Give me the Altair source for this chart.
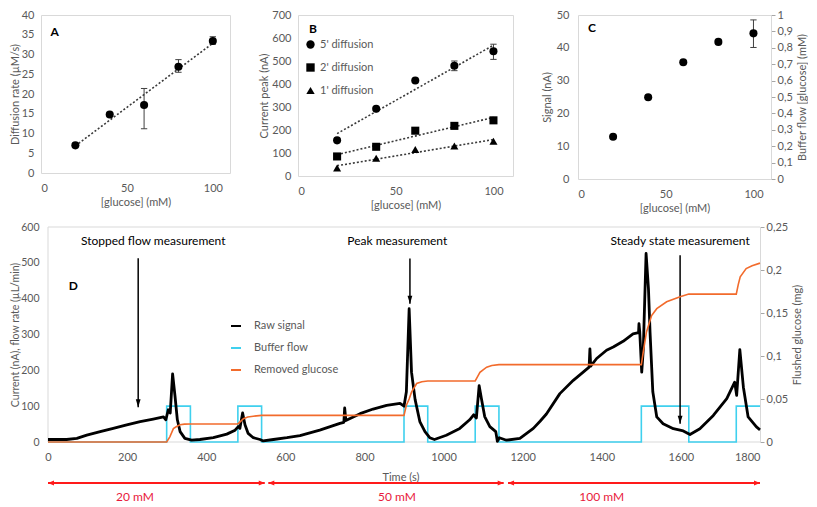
import altair as alt
import pandas as pd

FONT = "Lato"
GRAY = "#595959"
FRAME = "#d9d9d9"
TICKC = "#a6a6a6"
DOT = "#3a3a3a"

# ---------------- Panel A ----------------
A_GLUCOSE = [20, 40, 60, 80, 100]
A_RATE = [7.0, 14.8, 17.2, 26.9, 33.4]
A_ERR_G = [60, 80, 100]
A_ERR_LOW = [11.2, 25.5, 32.6]
A_ERR_HIGH = [21.4, 28.7, 34.5]

# ---------------- Panel B ----------------
B_GLUCOSE = [20, 40, 60, 80, 100]
B_SERIES = ["5' diffusion", "2' diffusion", "1' diffusion"]
B_5MIN = [155, 292, 415, 479, 542]
B_2MIN = [85, 127, 197, 218, 242]
B_1MIN = [35, 77, 115, 130, 151]
B_ERR_G = [80, 100]
B_ERR_LOW = [458, 507]
B_ERR_HIGH = [500, 573]

# ---------------- Panel C ----------------
C_GLUCOSE = [20, 40, 60, 80, 100]
C_SIGNAL = [12.9, 24.9, 35.6, 41.8, 44.4]
C_ERR_G = [100]
C_ERR_LOW = [40.1]
C_ERR_HIGH = [48.5]
C_RIGHT_DOMAIN = [0, 1]

# ---------------- Panel D ----------------
D_SERIES = ["Raw signal", "Buffer flow", "Removed glucose"]
D_COLORS = ["#000000", "#3fd0ee", "#f26b2c"]

T_RAW = [0, 47, 73, 98, 132, 165, 199, 233, 266, 292, 298, 304, 309, 315, 321, 327, 334, 346,
         363, 384, 418, 452, 473, 481, 485, 492, 498, 506, 519, 536, 544, 570, 604, 637, 687,
         738, 748, 750, 753, 789, 822, 856, 890, 900, 906, 913, 919, 928, 940, 953, 965, 977,
         1007, 1041, 1066, 1076, 1083, 1090, 1096, 1104, 1117, 1132, 1136, 1141, 1159, 1193,
         1227, 1244, 1260, 1294, 1328, 1353, 1368, 1370, 1372, 1387, 1412, 1429, 1454, 1479,
         1493, 1494, 1496, 1501, 1505, 1512, 1518, 1522, 1529, 1539, 1555, 1581, 1606, 1623,
         1648, 1682, 1716, 1736, 1741, 1749, 1758, 1770, 1791, 1800]
RAW = [7, 7, 10, 19, 29, 38, 48, 57, 64, 70, 62, 90, 81, 190, 129, 62, 29, 10,
       5, 7, 12, 22, 33, 43, 38, 81, 48, 24, 12, 7, 3, 7, 12, 18, 33,
       52, 55, 95, 60, 79, 92, 102, 108, 100, 140, 372, 195, 119, 57, 29, 12, 7,
       19, 38, 62, 76, 67, 157, 119, 71, 43, 29, 2, 12, 5, 10,
       38, 58, 78, 135, 172, 195, 209, 260, 212, 233, 256, 265, 281, 302,
       305, 330, 307, 195, 260, 526, 428, 307, 140, 70, 51, 37, 31, 21,
       37, 74, 121, 167, 130, 258, 153, 70, 42, 34]

T_FLOW = [0, 300, 360, 480, 540, 900, 960, 1080, 1140, 1500, 1620, 1740, 1800]
FLOW = [0, 100, 0, 100, 0, 100, 0, 100, 0, 100, 0, 100, 100]

T_GLU = [0, 300, 308, 317, 325, 334, 345, 360, 480, 487, 494, 505, 519, 540, 900, 906, 913,
         919, 932, 945, 960, 1080, 1086, 1092, 1100, 1109, 1122, 1140, 1500, 1505, 1513, 1526,
         1539, 1564, 1598, 1620, 1740, 1745, 1750, 1765, 1780, 1800]
GLU = [0, 0, 0.006, 0.0156, 0.018, 0.020, 0.0208, 0.021, 0.021, 0.024, 0.027, 0.029, 0.030,
       0.031, 0.031, 0.0427, 0.050, 0.058, 0.068, 0.070, 0.071, 0.071, 0.076, 0.081, 0.084,
       0.087, 0.089, 0.090, 0.090, 0.105, 0.128, 0.147, 0.155, 0.163, 0.169, 0.172, 0.172,
       0.183, 0.192, 0.2016, 0.205, 0.208]

ANN_TEXT = ["Stopped flow measurement", "Peak measurement", "Steady state measurement"]
ANN_T = [266, 883, 1598]
ANN_V = [560, 560, 560]
ARROW_T = [228, 915, 1598]
ARROW_TOP = [513, 512, 521]
ARROW_TIP = [97, 386, 51]

CONC_LABELS = ["20 mM", "50 mM", "100 mM"]
CONC_START = [0, 557, 1163]
CONC_END = [548, 1152, 1800]
CONC_LABEL_T = [220, 882, 1400]

D_TIME_RANGE = [0, 1800]
D_CURRENT_RANGE = [0, 600]

# ================= helpers =================
def gx():
    return alt.X("g:Q", scale=alt.Scale(domain=[0, 110], nice=False),
                 axis=alt.Axis(values=[0, 50, 100], title="[glucose] (mM)", titlePadding=3))


def panel_label(letter, gval, vval, y):
    df = pd.DataFrame({"g": [gval], "v": [vval], "txt": [letter]})
    return alt.Chart(df).mark_text(fontWeight="bold", fontSize=12, color="black",
                                   align="center", baseline="middle").encode(
        x=gx(), y=y, text="txt:N")


def error_layers(gs, lows, highs, y):
    df = pd.DataFrame({"g": gs, "v": lows, "v2": highs})
    caps = pd.DataFrame({"g": gs + gs, "v": lows + highs})
    rule = alt.Chart(df).mark_rule(color="#404040", strokeWidth=1).encode(x=gx(), y=y, y2="v2:Q")
    cap = alt.Chart(caps).mark_point(shape="stroke", size=40, color="#404040", strokeWidth=1,
                                     opacity=1).encode(x=gx(), y=y)
    return [rule, cap]


# ================= Panel A =================
yA = alt.Y("v:Q", scale=alt.Scale(domain=[0, 40], nice=False),
           axis=alt.Axis(values=list(range(0, 41, 5)), title="Diffusion rate (µM/s)",
                         labelPadding=7, minExtent=20, maxExtent=20, titlePadding=1))
dfA = pd.DataFrame({"g": A_GLUCOSE, "v": A_RATE})
trendA = alt.Chart(dfA).transform_regression("g", "v").mark_line(
    color=DOT, strokeDash=[2, 2], strokeWidth=1.6).encode(x=gx(), y=yA)
ptsA = alt.Chart(dfA).mark_circle(size=65, color="black", opacity=1).encode(x=gx(), y=yA)
panelA = alt.layer(trendA, *error_layers(A_ERR_G, A_ERR_LOW, A_ERR_HIGH, yA), ptsA,
                   panel_label("A", 8, 35.8, yA)).properties(width=189, height=158)

# ================= Panel B =================
yB = alt.Y("v:Q", scale=alt.Scale(domain=[0, 700], nice=False),
           axis=alt.Axis(values=list(range(0, 701, 100)), title="Current peak (nA)",
                         labelPadding=7, minExtent=26, maxExtent=26, titlePadding=3))
dfB = pd.DataFrame({
    "g": B_GLUCOSE * 3,
    "v": B_5MIN + B_2MIN + B_1MIN,
    "series": [s for s in B_SERIES for _ in B_GLUCOSE],
})
shapeB = alt.Shape("series:N", scale=alt.Scale(domain=B_SERIES, range=["circle", "square", "triangle-up"]),
                   legend=alt.Legend(orient="none", legendX=264, legendY=24, title=None,
                                     labelColor=GRAY, labelFontSize=11, symbolSize=70,
                                     symbolFillColor="black", symbolStrokeColor="black",
                                     rowPadding=8, labelOffset=4))
trendB = alt.Chart(dfB).transform_regression("g", "v", groupby=["series"]).mark_line(
    color=DOT, strokeDash=[2, 2], strokeWidth=1.6).encode(x=gx(), y=yB, detail="series:N")
ptsB = alt.Chart(dfB).mark_point(filled=True, size=65, color="black", opacity=1).encode(
    x=gx(), y=yB, shape=shapeB)
panelB = alt.layer(trendB, *error_layers(B_ERR_G, B_ERR_LOW, B_ERR_HIGH, yB), ptsB,
                   panel_label("B", 7.7, 638, yB)).properties(width=215, height=161)

# ================= Panel C =================
yC = alt.Y("v:Q", scale=alt.Scale(domain=[0, 50], nice=False),
           axis=alt.Axis(values=list(range(0, 51, 10)), title="Signal (nA)",
                         labelPadding=9, minExtent=24, maxExtent=24, titlePadding=2))
yCR = alt.Y("r:Q", scale=alt.Scale(domain=[0, 1], nice=False),
            axis=alt.Axis(orient="right", values=[round(i * 0.1, 1) for i in range(11)],
                          labelExpr="replace(format(datum.value, '.1~f'), '.', ',')",
                          title="Buffer flow [glucose] (mM)", titleAngle=270, titleBaseline="top",
                          domain=True, domainColor=FRAME, ticks=True, tickColor=TICKC, tickSize=4,
                          labelPadding=2, titlePadding=4))
dfC = pd.DataFrame({"g": C_GLUCOSE, "v": C_SIGNAL})
ptsC = alt.Chart(dfC).mark_circle(size=65, color="black", opacity=1).encode(x=gx(), y=yC)
leftC = alt.layer(*error_layers(C_ERR_G, C_ERR_LOW, C_ERR_HIGH, yC), ptsC,
                  panel_label("C", 7.9, 46.1, yC))
rightC = alt.Chart(pd.DataFrame({"g": [0, 0], "r": C_RIGHT_DOMAIN})).mark_point(opacity=0).encode(
    x=gx(), y=yCR)
panelC = alt.layer(leftC, rightC).resolve_scale(y="independent").properties(width=193, height=164)

top = alt.hconcat(panelA, panelB, panelC, spacing=26)

# ================= Panel D =================
D_H = 215
D_W = 719           # plot width; time 0 sits 7 px right of the left edge (frame drawn at t=0)
D_T0 = -17.7
xD = alt.X("t:Q", scale=alt.Scale(domain=[D_T0, 1800], nice=False, zero=False),
           axis=alt.Axis(values=list(range(0, 1801, 200)), format="d", title="Time (s)", titlePadding=9))
yD = alt.Y("v:Q", scale=alt.Scale(domain=[0, 600], nice=False),
           axis=alt.Axis(values=list(range(0, 601, 100)), title="Current (nA), flow rate (µL/min)",
                         labelPadding=2, labelFontSize=10.5, titleFontSize=10.5,
                         minExtent=20, maxExtent=20, titlePadding=1))
yDR = alt.Y("mg:Q", scale=alt.Scale(domain=[0, 0.25], nice=False),
            axis=alt.Axis(orient="right", values=[0, 0.05, 0.1, 0.15, 0.2, 0.25],
                          labelExpr="replace(format(datum.value, '.2~f'), '.', ',')",
                          title="Flushed glucose (mg)", titleAngle=270, titleBaseline="top",
                          domain=True, domainColor=FRAME, ticks=True, tickColor=TICKC, tickSize=4,
                          labelPadding=2, titlePadding=4))
colorD = alt.Color("series:N", scale=alt.Scale(domain=D_SERIES, range=D_COLORS),
                   legend=alt.Legend(orient="none", legendX=189, legendY=305, title=None,
                                     symbolType="stroke", symbolSize=100, symbolStrokeWidth=2,
                                     labelColor=GRAY, labelFontSize=11, rowPadding=11, labelOffset=12))

dfRaw = pd.DataFrame({"t": T_RAW, "v": RAW, "series": "Raw signal"})
dfFlow = pd.DataFrame({"t": T_FLOW, "v": FLOW, "series": "Buffer flow"})
dfGlu = pd.DataFrame({"t": T_GLU, "mg": GLU, "series": "Removed glucose"})

# frame of panel D (drawn through the scales at the data range limits)
frameH = alt.Chart(pd.DataFrame({"t": [D_TIME_RANGE[0]] * 2, "t2": [D_TIME_RANGE[1]] * 2,
                                 "v": D_CURRENT_RANGE})).mark_rule(color=FRAME, strokeWidth=1).encode(
    x=xD, x2="t2:Q", y=yD)
frameV = alt.Chart(pd.DataFrame({"t": [D_TIME_RANGE[0]], "v": [D_CURRENT_RANGE[0]],
                                 "v2": [D_CURRENT_RANGE[1]]})).mark_rule(color=FRAME, strokeWidth=1).encode(
    x=xD, y=yD, y2="v2:Q")

flowL = alt.Chart(dfFlow).mark_line(interpolate="step-after", strokeWidth=1.6).encode(
    x=xD, y=yD, color=colorD)
rawL = alt.Chart(dfRaw).mark_line(strokeWidth=2.8, strokeJoin="round").encode(
    x=xD, y=yD, color=colorD)

dfAnn = pd.DataFrame({"t": ANN_T, "v": ANN_V, "txt": ANN_TEXT})
annT = alt.Chart(dfAnn).mark_text(fontSize=12, color="black", align="center", baseline="middle").encode(
    x=xD, y=yD, text="txt:N")
dfArr = pd.DataFrame({"t": ARROW_T, "v": ARROW_TOP, "v2": ARROW_TIP})
arrR = alt.Chart(dfArr).mark_rule(color="black", strokeWidth=1.5).encode(x=xD, y=yD, y2="v2:Q")
dfTip = pd.DataFrame({"t": ARROW_T, "v": ARROW_TIP})
arrH = alt.Chart(dfTip).mark_point(shape="M-0.6,-2L0.6,-2L0,0Z", size=64, filled=True,
                                   color="black", opacity=1, strokeWidth=0).encode(x=xD, y=yD)
dfD = pd.DataFrame({"t": [64], "v": [434], "txt": ["D"]})
labD = alt.Chart(dfD).mark_text(fontSize=12, fontWeight="bold", color="black").encode(
    x=xD, y=yD, text="txt:N")

RED = "#ff1a1a"
dfConc = pd.DataFrame({"t": CONC_START, "t2": CONC_END})
concR = alt.Chart(dfConc).mark_rule(color=RED, strokeWidth=2).encode(
    x=xD, x2="t2:Q", y=alt.value(D_H + 41))
concHL = alt.Chart(pd.DataFrame({"t": CONC_START})).mark_point(
    shape="M0,0L1.5,-0.6L1.5,0.6Z", size=64, filled=True, color=RED, opacity=1, strokeWidth=0).encode(
    x=xD, y=alt.value(D_H + 41))
concHR = alt.Chart(pd.DataFrame({"t": CONC_END})).mark_point(
    shape="M0,0L-1.5,-0.6L-1.5,0.6Z", size=64, filled=True, color=RED, opacity=1, strokeWidth=0).encode(
    x=xD, y=alt.value(D_H + 41))
concT = alt.Chart(pd.DataFrame({"t": CONC_LABEL_T, "txt": CONC_LABELS})).mark_text(
    fontSize=12, color="#e8193c", align="center", baseline="middle").encode(
    x=xD, y=alt.value(D_H + 55), text="txt:N")

innerD = alt.layer(frameH, frameV, flowL, rawL, annT, arrR, arrH, labD, concR, concHL, concHR, concT)
gluL = alt.Chart(dfGlu).mark_line(strokeWidth=1.6).encode(x=xD, y=yDR, color=colorD)
panelD = alt.layer(innerD, gluL).resolve_scale(y="independent").properties(
    width=D_W, height=D_H, view=alt.ViewBackground(stroke="transparent"))

chart = alt.concat(top, panelD, columns=1, align="none", spacing=6).properties(
    padding={"left": 0, "top": 0, "right": 0, "bottom": 0}
).configure(font=FONT, background="white").configure_view(
    stroke=FRAME, strokeWidth=1
).configure_axis(
    labelColor=GRAY, titleColor=GRAY, labelFontSize=11, titleFontSize=11,
    titleFontWeight="normal", grid=False, domain=False, ticks=False, labelPadding=9,
    labelFont=FONT, titleFont=FONT
).configure_legend(labelFont=FONT)

chart.save("out.html", embed_options={"renderer": "svg", "actions": False})
